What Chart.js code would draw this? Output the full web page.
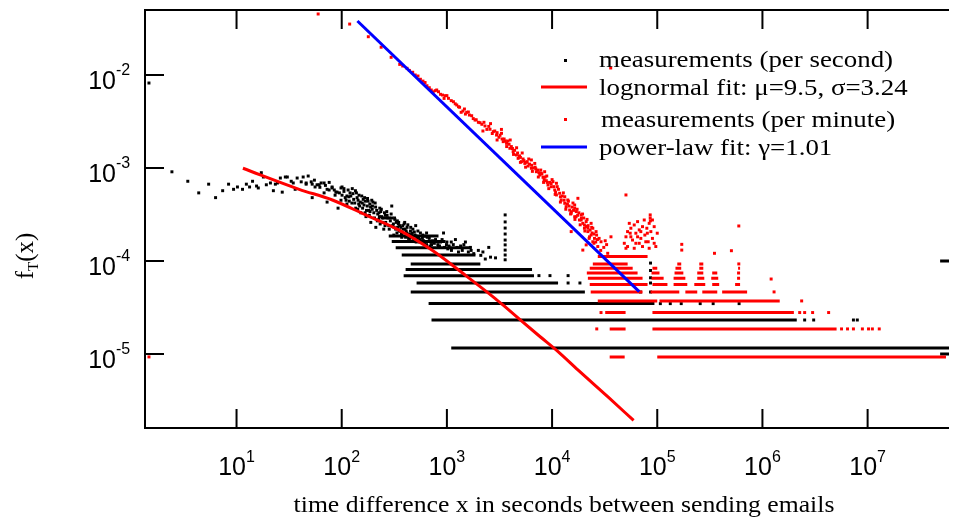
<!DOCTYPE html>
<html>
<head>
<meta charset="utf-8">
<script src="https://cdn.jsdelivr.net/npm/chart.js@4.4.0/dist/chart.umd.min.js"></script>
<style>
  html, body { margin: 0; padding: 0; background: #fff; }
  #wrap { width: 953px; height: 518px; }
</style>
</head>
<body>
<div id="wrap"><canvas id="chart" width="953" height="518"></canvas></div>
<script>
// ---- axis ticks ----
const xTickValues = [1e1, 1e2, 1e3, 1e4, 1e5, 1e6, 1e7];
const xTickExp = ["1", "2", "3", "4", "5", "6", "7"];
const yTickValues = [1e-2, 1e-3, 1e-4, 1e-5];
const yTickExp = ["-2", "-3", "-4", "-5"];

// ---- measurements (per second): scattered points ----
const secX = [1.47, 2.43, 3.44, 4.37, 5.43, 6.32, 7.38, 8.4, 9.37, 10.2, 11.4, 12.4, 13.3, 14.2, 15.5, 16.1, 17.2, 18, 19.2, 21,
  22.4, 23.4, 24.5, 26.1, 27.2, 29.1, 30.4, 33.1, 34.6, 36.1, 37.7, 41.2, 43, 45.9, 48, 51.3, 52.4, 55.8, 58.3, 63.7,
  68, 72.6, 75.9, 81, 86.5, 90.3, 92.3, 98.4, 100.7, 45.9, 52.4, 61, 68, 72.6, 81, 88, 98.4, 100.7, 110,
  117, 125, 136, 146, 152, 163, 170, 181, 189, 202, 211, 225, 240, 251, 268, 280, 299, 313, 326, 348,
  372, 397, 415, 453, 483, 505, 538, 575, 641, 714, 780, 832, 929, 991, 1105, 1205, 1288, 1500, 1672, 1991,
  2317, 55, 62, 70, 76, 85, 95, 105, 112, 120, 130, 140, 150, 160, 175, 185, 195, 210, 220, 235,
  250, 260, 290, 310, 340, 360, 380, 420, 450, 470, 520, 560, 600, 680, 760, 870, 1050, 1150, 1400, 1800,
  2600, 128, 145, 168, 198, 230, 245, 275, 320, 355, 400, 440, 490, 620, 700, 900, 1100, 1350, 1600, 2100,
  2900, 3580, 3580, 3580, 3580, 3580, 3580, 3580, 3580, 3580, 2.52e6, 3.07e6, 7.33e6, 7.98e6, 1.07e5, 1.33e5, 1.69e5, 2.56e5, 3.4e5, 6.0e5,
  6.93e4, 8.63e4, 1.42e4, 1.84e4, 8.63e4, 7.5e3, 9.55e3, 1.42e4, 8.63e4, 8.63e4, 8.63e4,
  105, 108, 115, 118, 122, 126, 133, 138, 143, 148, 155, 158, 165, 172, 178, 183, 188, 193, 205, 208,
  215, 228, 232, 238, 255, 262, 270, 285, 295, 305, 318, 330, 335, 345, 365, 370, 385, 392, 410, 425,
  432, 460, 475, 498, 510, 530, 550, 590, 610, 650, 690, 730, 820, 950, 1000, 1250, 1450, 1700, 2200, 2500,
  112, 135, 142, 157, 167, 176, 186, 196, 218, 226, 243, 258, 266, 283, 300, 315, 338, 352, 378, 405,
  418, 445, 468, 512, 545, 585, 640, 720, 850, 1020];
const secY = [8.2e-3, 9.1e-4, 7.2e-4, 5.4e-4, 6.7e-4, 4.8e-4, 5.7e-4, 6.7e-4, 5.9e-4, 6.25e-4, 5.9e-4, 6.7e-4, 6.25e-4, 7.2e-4, 6.4e-4, 6.1e-4, 8.9e-4, 8.0e-4, 6.6e-4, 6.9e-4,
  5.7e-4, 6.7e-4, 6.9e-4, 7.8e-4, 5.5e-4, 8.0e-4, 8.0e-4, 7.2e-4, 6.9e-4, 5.9e-4, 7.8e-4, 7.1e-4, 8.0e-4, 6.7e-4, 8.2e-4, 7.1e-4, 4.8e-4, 6.25e-4, 6.6e-4, 6.9e-4,
  5.4e-4, 4.3e-4, 5.8e-4, 6.1e-4, 5.1e-4, 5.5e-4, 3.7e-4, 4.5e-4, 6.25e-4, 6.9e-4, 6.7e-4, 6.6e-4, 6.9e-4, 5.9e-4, 6.25e-4, 5.5e-4, 6.1e-4, 5.1e-4, 4.5e-4,
  4.9e-4, 4.2e-4, 3.7e-4, 5.1e-4, 3.3e-4, 4.0e-4, 3.0e-4, 3.5e-4, 2.6e-4, 3.3e-4, 2.3e-4, 2.8e-4, 3.0e-4, 2.2e-4, 3.4e-4, 2.4e-4, 3.9e-4, 1.9e-4, 2.2e-4, 2.6e-4,
  1.8e-4, 2.6e-4, 2.0e-4, 2.3e-4, 1.7e-4, 2.4e-4, 1.8e-4, 1.6e-4, 2.0e-4, 1.5e-4, 1.7e-4, 1.4e-4, 2.0e-4, 1.5e-4, 1.3e-4, 1.7e-4, 1.25e-4, 1.6e-4, 1.4e-4, 1.3e-4,
  1.05e-4, 7.4e-4, 6.2e-4, 6.5e-4, 7.0e-4, 5.8e-4, 5.4e-4, 5.6e-4, 5.0e-4, 5.4e-4, 4.6e-4, 4.8e-4, 4.3e-4, 4.6e-4, 3.9e-4, 4.1e-4, 3.6e-4, 3.8e-4, 3.2e-4, 3.4e-4,
  2.9e-4, 3.1e-4, 2.7e-4, 2.5e-4, 2.3e-4, 2.1e-4, 2.4e-4, 1.9e-4, 2.1e-4, 1.85e-4, 1.75e-4, 2.0e-4, 1.65e-4, 1.75e-4, 1.55e-4, 1.6e-4, 1.45e-4, 1.5e-4, 1.3e-4, 1.2e-4,
  1.1e-4, 5.3e-4, 4.1e-4, 4.4e-4, 4.3e-4, 3.7e-4, 2.6e-4, 2.9e-4, 2.8e-4, 2.4e-4, 2.2e-4, 1.95e-4, 2.05e-4, 1.85e-4, 1.6e-4, 1.7e-4, 1.6e-4, 1.45e-4, 1.25e-4, 1.15e-4,
  1.08e-4, 3.13e-4, 2.63e-4, 2.26e-4, 1.95e-4, 1.68e-4, 1.49e-4, 1.31e-4, 1.16e-4, 1.03e-4, 2.32e-5, 2.32e-5, 2.32e-5, 2.32e-5, 3.48e-5, 3.48e-5, 3.48e-5, 3.48e-5, 3.48e-5, 3.48e-5,
  4.64e-5, 4.64e-5, 5.8e-5, 5.8e-5, 5.8e-5, 6.96e-5, 6.96e-5, 6.96e-5, 9.5e-5, 7.9e-5, 6.6e-5,
  6.0e-4, 4.8e-4, 5.8e-4, 4.4e-4, 5.0e-4, 6.0e-4, 4.2e-4, 5.4e-4, 4.5e-4, 3.9e-4, 5.0e-4, 3.7e-4, 4.8e-4, 3.5e-4, 4.4e-4, 3.1e-4, 3.8e-4, 4.5e-4, 2.9e-4, 4.2e-4,
  3.5e-4, 3.0e-4, 2.5e-4, 3.6e-4, 3.3e-4, 2.6e-4, 3.1e-4, 2.9e-4, 3.2e-4, 2.4e-4, 2.9e-4, 2.6e-4, 2.0e-4, 2.5e-4, 2.3e-4, 1.95e-4, 2.2e-4, 2.5e-4, 2.1e-4, 2.45e-4,
  1.75e-4, 1.9e-4, 2.2e-4, 1.9e-4, 1.6e-4, 2.1e-4, 1.7e-4, 1.9e-4, 1.55e-4, 1.8e-4, 1.45e-4, 1.65e-4, 1.5e-4, 1.4e-4, 1.6e-4, 1.4e-4, 1.5e-4, 1.3e-4, 1.25e-4, 1.4e-4,
  4.1e-4, 5.7e-4, 3.6e-4, 4.2e-4, 3.3e-4, 4.7e-4, 3.4e-4, 3.9e-4, 2.7e-4, 3.3e-4, 2.9e-4, 2.4e-4, 2.9e-4, 2.2e-4, 2.9e-4, 2.3e-4, 2.7e-4, 2.1e-4, 2.0e-4, 1.8e-4,
  2.3e-4, 1.75e-4, 2.0e-4, 1.85e-4, 1.6e-4, 1.75e-4, 1.5e-4, 1.6e-4, 1.45e-4, 1.35e-4];

// ---- measurements (per second): runs along discrete levels ----
const secRunY = [1.16e-5, 2.32e-5, 3.48e-5, 4.64e-5, 5.8e-5, 6.96e-5, 8.1e-5, 9.3e-5, 1.16e-4, 1.39e-4, 1.62e-4, 1.86e-4, 1.0e-4, 1.0e-5];
const secRunStart = [1100, 714, 670, 453, 515, 388, 405, 453, 372, 326, 299, 280, 4.89e7, 4.89e7];
const secRunEnd = [5.94e7, 2.12e6, 9.4e4, 2.05e4, 1.14e4, 6.73e3, 6.45e3, 2.08e3, 1.87e3, 1.71e3, 970, 832, 5.94e7, 5.94e7];

// ---- measurements (per minute): scattered points ----
const minX = [119, 179, 237, 295, 356, 418, 473, 531, 592, 646, 710, 775, 832, 908, 963, 1035, 1154, 1241, 1288, 1366,
  1468, 1543, 1636, 1720, 1852, 1991, 2065, 2303, 2570, 2760, 2965, 3126, 3305, 3430, 3690, 3970, 4266, 4585, 4755, 5115,
  5506, 5916, 6357, 6846, 7090, 7640, 8203, 8815, 9146, 9825, 1.06e4, 1.1e4, 1.18e4, 1.22e4, 1.32e4, 1.36e4, 1.47e4, 1.52e4, 1.64e4, 1.76e4,
  1.82e4, 1.96e4, 2.03e4, 2.19e4, 2.35e4, 2.44e4, 2.53e4, 5.04e4, 1.1e4, 8500, 6357, 1.32e4, 1.64e4, 1.89e4, 2.11e4, 1.41e4, 1.02e4,
  1.52e4, 1.64e4, 1.69e4, 1.89e4, 2.03e4, 2.19e4, 2.27e4, 2.35e4, 2.44e4, 2.62e4, 2.72e4, 2.92e4, 3.38e4, 3.63e4, 1.96e4, 2.11e4, 1.52e4,
  4.86e4, 5.04e4, 5.22e4, 5.42e4, 5.61e4, 5.82e4, 6.04e4, 6.26e4, 6.5e4, 6.74e4, 6.98e4, 7.24e4, 7.52e4, 7.62e4, 7.96e4, 8.2e4, 8.38e4, 8.57e4, 8.57e4, 8.6e4,
  8.69e4, 9.0e4, 9.35e4, 9.69e4, 1.0e5, 5.22e4, 6.04e4, 7.24e4, 8.38e4, 5.61e4, 6.74e4, 7.78e4, 6.5e4, 9.0e4, 5.53e4, 6.98e4, 6.26e4, 5.04e4, 9.35e4, 8.05e4,
  1.71e5, 1.71e5, 3.5e5, 5.07e5, 5.96e5, 1.21e6, 3.61e4, 59.7, 1.47, 2.66e4, 2.92e4,
  5.65e6, 6.44e6, 7.33e6, 8.92e6, 1.02e7, 1.11e7, 1.29e7, 2.26e6, 2.52e6, 3.0e6, 4.26e6, 2.36e6, 1.29e6, 5.96e5,
  2400, 2700, 3000, 3500, 3800, 4100, 4400, 4900, 5300, 5700, 6100, 6600, 7300, 7900, 8600, 9500, 1.04e4, 1.15e4, 1.25e4, 1.4e4,
  1.55e4, 1.7e4, 1.8e4, 2.0e4, 2.2e4, 2.4e4, 2.6e4, 2.8e4, 3.1e4, 3.3e4,
  380, 440, 500, 560, 620, 680, 740, 800, 870, 940, 1000, 1100, 1200, 1320, 1420, 1500, 1600, 1780, 1900, 2150,
  2250, 2500, 2850, 3200, 3350, 3600, 3900, 4200, 4700, 5000, 5400, 5800, 6400, 7000, 7500, 8000, 8400, 9000, 9800, 1.08e4,
  1.2e4, 1.3e4, 1.45e4, 1.6e4, 1.75e4, 1.9e4, 2.1e4, 2.3e4, 2.5e4, 2.7e4,
  2200, 2600, 3000, 3300, 3700, 4000, 4300, 4600, 5000, 5200, 5600, 6000, 6500, 6900, 7400, 7800, 8300, 8900, 9300, 1.0e4,
  1.07e4, 1.12e4, 1.2e4, 1.28e4, 1.35e4, 1.43e4, 1.5e4, 1.58e4, 1.65e4, 1.73e4, 1.85e4, 1.95e4, 2.05e4, 2.15e4, 2.25e4, 2.38e4, 2.5e4, 2.65e4, 2.9e4, 3.2e4];
const minY = [3.53e-2, 2.58e-2, 1.99e-2, 1.55e-2, 1.30e-2, 1.18e-2, 1.07e-2, 9.75e-3, 8.6e-3, 7.67e-3, 6.9e-3, 6.78e-3, 6.61e-3, 6.09e-3, 5.99e-3, 5.61e-3, 5.16e-3, 4.76e-3, 4.56e-3, 3.97e-3,
  4.31e-3, 3.97e-3, 3.71e-3, 3.65e-3, 3.28e-3, 3.1e-3, 3.07e-3, 2.83e-3, 2.61e-3, 2.46e-3, 2.26e-3, 2.14e-3, 2.36e-3, 1.92e-3, 1.84e-3, 1.63e-3, 1.5e-3, 1.38e-3, 1.27e-3, 1.17e-3,
  1.12e-3, 1.05e-3, 9.93e-4, 1.12e-3, 9.12e-4, 8.4e-4, 7.94e-4, 7.3e-4, 6.56e-4, 6.29e-4, 5.8e-4, 5.13e-4, 5.35e-4, 4.53e-4, 4.17e-4, 3.84e-4, 3.53e-4, 3.26e-4, 2.99e-4, 4.72e-4,
  2.76e-4, 2.54e-4, 2.25e-4, 2.07e-4, 1.9e-4, 2.25e-4, 1.75e-4, 5.13e-4, 6.85e-4, 9.12e-4, 1.22e-3, 4.91e-4, 3.69e-4, 3.13e-4, 2.65e-4, 4.53e-4, 7.13e-4,
  3.39e-4, 4.0e-4, 2.99e-4, 2.76e-4, 2.44e-4, 2.25e-4, 1.82e-4, 2.54e-4, 1.61e-4, 2.07e-4, 1.43e-4, 1.61e-4, 1.21e-4, 1.82e-4, 1.31e-4, 1.49e-4, 2.07e-4,
  1.55e-4, 1.82e-4, 2.07e-4, 2.54e-4, 2.25e-4, 1.68e-4, 2.44e-4, 1.99e-4, 2.65e-4, 2.16e-4, 1.75e-4, 2.34e-4, 2.76e-4, 1.9e-4, 2.25e-4, 1.61e-4, 2.54e-4, 3.13e-4, 2.9e-4, 2.7e-4,
  2.07e-4, 1.75e-4, 2.34e-4, 1.43e-4, 1.99e-4, 1.43e-4, 1.37e-4, 1.43e-4, 1.37e-4, 1.82e-4, 1.55e-4, 1.61e-4, 1.82e-4, 2.76e-4, 1.99e-4, 2.07e-4, 1.55e-4, 1.37e-4, 1.55e-4, 1.99e-4,
  1.51e-4, 1.31e-4, 1.21e-4, 1.29e-4, 2.38e-4, 6.4e-5, 1.19e-2, 4.53e-2, 9.3e-6, 1.86e-5, 2.79e-5,
  1.86e-5, 1.86e-5, 1.86e-5, 1.86e-5, 1.86e-5, 1.86e-5, 1.86e-5, 2.79e-5, 2.79e-5, 2.79e-5, 2.79e-5, 3.72e-5, 4.65e-5, 9.3e-5,
  2.6e-3, 2.35e-3, 2.4e-3, 2.05e-3, 1.95e-3, 1.7e-3, 1.55e-3, 1.35e-3, 1.25e-3, 1.15e-3, 1.1e-3, 1.0e-3, 9.5e-4, 8.8e-4, 8.0e-4, 7.0e-4, 6.3e-4, 5.9e-4, 5.0e-4, 4.1e-4,
  3.8e-4, 3.4e-4, 3.3e-4, 2.9e-4, 2.4e-4, 2.0e-4, 1.6e-4, 1.75e-4, 1.4e-4, 1.5e-4,
  1.25e-2, 1.12e-2, 1.0e-2, 9.0e-3, 8.3e-3, 7.3e-3, 6.6e-3, 6.9e-3, 6.2e-3, 5.6e-3, 6.0e-3, 5.3e-3, 4.9e-3, 4.5e-3, 4.1e-3, 3.8e-3, 4.0e-3, 3.4e-3, 3.3e-3, 2.95e-3,
  3.1e-3, 2.8e-3, 2.5e-3, 2.25e-3, 2.05e-3, 1.95e-3, 1.8e-3, 1.62e-3, 1.45e-3, 1.3e-3, 1.2e-3, 1.17e-3, 1.07e-3, 9.8e-4, 8.9e-4, 8.6e-4, 7.5e-4, 7.0e-4, 6.8e-4, 5.5e-4,
  4.9e-4, 4.5e-4, 3.9e-4, 3.5e-4, 3.1e-4, 2.9e-4, 2.35e-4, 2.15e-4, 1.95e-4, 1.7e-4,
  2.5e-3, 3.0e-3, 2.0e-3, 2.6e-3, 1.7e-3, 2.0e-3, 1.4e-3, 1.65e-3, 1.15e-3, 1.45e-3, 1.02e-3, 1.25e-3, 9.2e-4, 1.02e-3, 8.0e-4, 9.5e-4, 7.0e-4, 8.2e-4, 6.0e-4, 7.5e-4,
  5.2e-4, 6.3e-4, 4.3e-4, 5.4e-4, 3.6e-4, 4.4e-4, 3.2e-4, 4.2e-4, 2.8e-4, 3.6e-4, 2.45e-4, 3.2e-4, 2.1e-4, 2.8e-4, 1.75e-4, 2.3e-4, 1.55e-4, 1.9e-4, 1.3e-4, 1.65e-4];

// ---- measurements (per minute): runs along discrete levels ----
const minRunY = [9.3e-6, 9.3e-6, 1.86e-5, 1.86e-5, 2.79e-5, 2.79e-5, 3.72e-5, 3.72e-5,
  4.65e-5, 4.65e-5, 4.65e-5, 4.65e-5, 4.65e-5,
  5.58e-5, 5.58e-5, 5.58e-5, 5.58e-5, 5.58e-5, 5.58e-5,
  6.51e-5, 6.51e-5, 6.51e-5, 6.51e-5, 6.51e-5, 6.51e-5,
  7.44e-5, 7.44e-5, 7.44e-5, 7.44e-5, 7.44e-5, 7.44e-5,
  8.37e-5, 8.37e-5, 8.37e-5, 8.37e-5, 8.37e-5,
  9.3e-5, 9.3e-5, 9.3e-5, 1.12e-4];
const minRunStart = [3.53e4, 1.0e5, 3.53e4, 9.0e4, 3.2e4, 9.0e4, 2.72e4, 1.05e5,
  2.33e4, 8.63e4, 1.85e5, 2.68e5, 4.14e5,
  2.28e4, 9.0e4, 1.43e5, 2.25e5, 3.33e5, 5.5e5,
  2.19e4, 8.82e4, 1.43e5, 2.4e5, 3.26e5, 5.74e5,
  2.14e4, 8.82e4, 1.46e5, 2.4e5, 3.33e5, 5.74e5,
  2.28e4, 9.0e4, 1.49e5, 2.51e5, 5.87e5,
  2.44e4, 1.55e5, 2.51e5, 2.72e4];
const minRunEnd = [4.9e4, 5.56e7, 5.0e4, 5.07e6, 5.0e4, 1.99e6, 1.0e5, 1.46e6,
  7.25e4, 1.62e5, 2.4e5, 3.72e5, 7.15e5,
  8.09e4, 1.25e5, 1.93e5, 2.86e5, 3.88e5, 6.13e5,
  7.25e4, 1.15e5, 1.85e5, 2.8e5, 3.8e5, 6.13e5,
  6.5e4, 1.05e5, 1.77e5, 2.74e5, 3.72e5, 6.13e5,
  5.84e4, 1.0e5, 1.69e5, 2.74e5, 6.13e5,
  5.23e4, 1.69e5, 2.74e5, 8.09e4];

// ---- fitted curves ----
const lognX = [11.5, 39.4, 81.5, 169, 348, 719, 1489, 2864, 3565, 7362, 1.14e4, 1.76e4, 3.38e4, 5.96e4];
const lognY = [9.93e-4, 5.9e-4, 4.53e-4, 3.13e-4, 2.16e-4, 1.31e-4, 7.06e-5, 3.97e-5, 3.23e-5, 1.6e-5, 1.06e-5, 6.73e-6, 3.47e-6, 1.93e-6];
const powX = [141, 6.74e4];
const powY = [3.81e-2, 4.68e-5];

const legendLabels = ["measurements (per second)", "lognormal fit: \u03bc=9.5, \u03c3=3.24", "measurements (per minute)", "power-law fit: \u03b3=1.01"];

function toPoints(xs, ys) {
    return xs.map((v, i) => ({ x: v, y: ys[i] }));
}

function runsToPoints(ys, starts, ends) {
    const pts = [];
    ys.forEach((v, i) => {
        pts.push({ x: starts[i], y: v });
        pts.push({ x: ends[i], y: v });
        pts.push({ x: ends[i], y: null });
    });
    return pts;
}

const SERIF = '"Liberation Serif", "Times New Roman", serif';
const SANS = '"Liberation Sans", Arial, sans-serif';

// text with a horizontal stretch factor
function stretchText(ctx, text, x, y, font, align, sx) {
    ctx.save();
    ctx.font = font;
    const w = ctx.measureText(text).width * sx;
    let x0 = x;
    if (align === "center") x0 = x - w / 2;
    else if (align === "right") x0 = x - w;
    ctx.translate(x0, y);
    ctx.scale(sx, 1);
    ctx.textAlign = "left";
    ctx.fillText(text, 0, 0);
    ctx.restore();
    return w;
}

const decorPlugin = {
    id: "decor",
    afterDraw(chart) {
        const { ctx, chartArea: a } = chart;
        const xs = chart.scales.x, ys = chart.scales.y;
        ctx.save();
        ctx.strokeStyle = "#000";
        ctx.fillStyle = "#000";
        ctx.lineWidth = 2;

        // frame (left, bottom, top)
        ctx.beginPath();
        ctx.moveTo(a.right, a.top);
        ctx.lineTo(a.left, a.top);
        ctx.lineTo(a.left, a.bottom);
        ctx.lineTo(a.right, a.bottom);
        ctx.stroke();

        // x ticks (inward, bottom and top)
        ctx.textBaseline = "alphabetic";
        xTickValues.forEach((v, i) => {
            const px = xs.getPixelForValue(v);
            ctx.beginPath();
            ctx.moveTo(px, a.bottom);
            ctx.lineTo(px, a.bottom - 19);
            ctx.moveTo(px, a.top);
            ctx.lineTo(px, a.top + 19);
            ctx.stroke();
            ctx.font = "25px " + SANS;
            const wb = ctx.measureText("10").width;
            ctx.font = "16px " + SANS;
            const we = ctx.measureText(xTickExp[i]).width;
            const left = px - (wb + we) / 2;
            ctx.font = "25px " + SANS;
            ctx.textAlign = "left";
            ctx.fillText("10", left, a.bottom + 47);
            ctx.font = "16px " + SANS;
            ctx.fillText(xTickExp[i], left + wb, a.bottom + 34);
        });

        // y ticks (inward, left)
        yTickValues.forEach((v, i) => {
            const py = ys.getPixelForValue(v);
            ctx.beginPath();
            ctx.moveTo(a.left, py);
            ctx.lineTo(a.left + 19, py);
            ctx.stroke();
            ctx.font = "25px " + SANS;
            ctx.textAlign = "right";
            ctx.fillText("10", a.left - 29, py + 14);
            ctx.font = "16px " + SANS;
            ctx.textAlign = "left";
            ctx.fillText(yTickExp[i], a.left - 29, py);
        });

        // x axis title
        stretchText(ctx, "time difference x in seconds between sending emails", 564, 512, "24px " + SERIF, "center", 1.07);

        // y axis title f_T(x), rotated
        ctx.save();
        ctx.translate(33, 256);
        ctx.rotate(-Math.PI / 2);
        ctx.font = "25px " + SERIF;
        const wf = ctx.measureText("f").width;
        ctx.font = "15px " + SERIF;
        const wt = ctx.measureText("T").width;
        ctx.font = "25px " + SERIF;
        const wx = ctx.measureText("(x)").width;
        let tx = -(wf + wt + wx) / 2;
        ctx.textAlign = "left";
        ctx.fillText("f", tx, 0);
        ctx.font = "15px " + SERIF;
        ctx.fillText("T", tx + wf, 5);
        ctx.font = "25px " + SERIF;
        ctx.fillText("(x)", tx + wf + wt, 0);
        ctx.restore();

        // legend
        const ds = chart.data.datasets;
        const rowY = [60, 87, 119, 147];
        const baseY = [67, 95, 127, 155];
        const textX = [599, 599, 601, 599];
        const legendSets = [ds[4], ds[1], ds[2], ds[0]];
        legendSets.forEach((d, i) => {
            if (d.showLine) {
                ctx.strokeStyle = d.borderColor;
                ctx.lineWidth = 3;
                ctx.beginPath();
                ctx.moveTo(541, rowY[i]);
                ctx.lineTo(587, rowY[i]);
                ctx.stroke();
            } else {
                ctx.fillStyle = d.backgroundColor;
                ctx.fillRect(564, rowY[i] - 1, 3, 3);
            }
            ctx.fillStyle = "#000";
            stretchText(ctx, legendLabels[i], textX[i], baseY[i], "24px " + SERIF, "left", 1.12);
        });
        ctx.restore();
    }
};

const ctx = document.getElementById("chart").getContext("2d");
const chart = new Chart(ctx, {
    type: "scatter",
    data: {
        datasets: [
            {
                label: legendLabels[3],
                data: toPoints(powX, powY),
                showLine: true,
                borderColor: "#0000ff",
                borderWidth: 3,
                pointRadius: 0,
                order: 0
            },
            {
                label: legendLabels[1],
                data: toPoints(lognX, lognY),
                showLine: true,
                borderColor: "#ff0000",
                borderWidth: 3,
                cubicInterpolationMode: "monotone",
                pointRadius: 0,
                order: 1
            },
            {
                label: legendLabels[2],
                data: toPoints(minX, minY),
                backgroundColor: "#ff0000",
                borderWidth: 0,
                pointStyle: "rect",
                pointRadius: 2.1,
                order: 2
            },
            {
                label: "per minute runs",
                data: runsToPoints(minRunY, minRunStart, minRunEnd),
                showLine: true,
                spanGaps: false,
                borderColor: "#ff0000",
                borderWidth: 3,
                borderCapStyle: "butt",
                pointRadius: 0,
                order: 3
            },
            {
                label: legendLabels[0],
                data: toPoints(secX, secY),
                backgroundColor: "#000000",
                borderWidth: 0,
                pointStyle: "rect",
                pointRadius: 2.1,
                order: 4
            },
            {
                label: "per second runs",
                data: runsToPoints(secRunY, secRunStart, secRunEnd),
                showLine: true,
                spanGaps: false,
                borderColor: "#000000",
                borderWidth: 3,
                borderCapStyle: "butt",
                pointRadius: 0,
                order: 5
            }
        ]
    },
    options: {
        responsive: false,
        animation: false,
        devicePixelRatio: 1,
        layout: {
            padding: { left: 145, top: 10, right: 0, bottom: 90 }
        },
        plugins: {
            legend: { display: false },
            tooltip: { enabled: false }
        },
        scales: {
            x: { type: "logarithmic", min: 1.348, max: 5.94e7, display: false },
            y: { type: "logarithmic", min: 1.6e-6, max: 0.05, display: false }
        }
    },
    plugins: [decorPlugin]
});
</script>
</body>
</html>
